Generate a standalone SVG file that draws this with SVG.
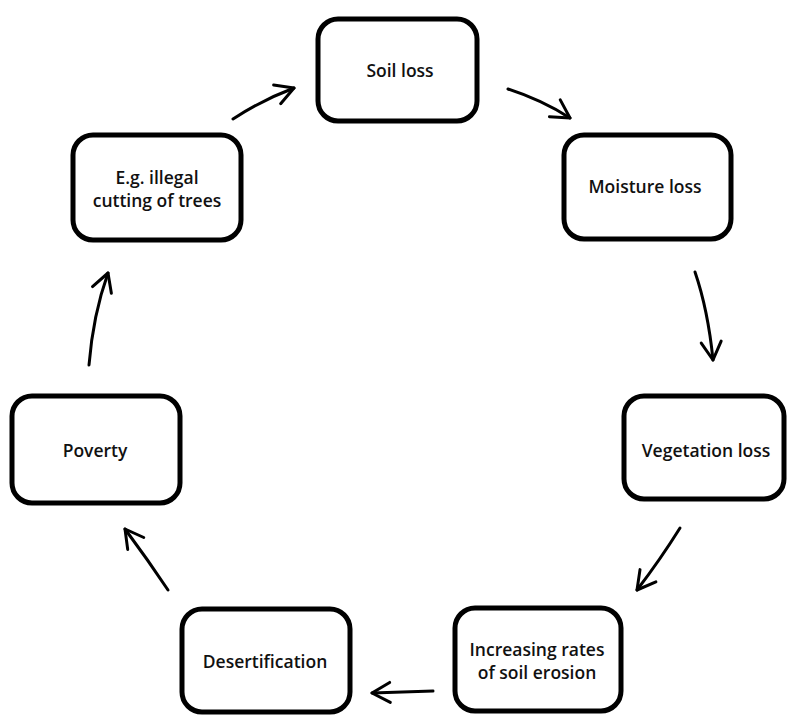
<svg xmlns="http://www.w3.org/2000/svg" width="787" height="718" viewBox="0 0 787 718">
<style>
.box{fill:#fff;stroke:#000;stroke-width:5}
.lbl{font-family:"Open Sans","Liberation Sans",sans-serif;font-size:17.5px;font-weight:600;fill:#111;text-anchor:middle}
.conn{fill:none;stroke:#000;stroke-width:3;stroke-linecap:round;marker-end:url(#ah)}
</style>
<defs>
<marker id="ah" markerUnits="userSpaceOnUse" viewBox="0 0 24 24" refX="21" refY="12" markerWidth="24" markerHeight="24" orient="auto">
<path d="M3,2 L21,12 L3,22" fill="none" stroke="#000" stroke-width="3" stroke-linecap="round" stroke-linejoin="round"/>
</marker>
</defs>
<rect width="787" height="718" fill="#fff"/>
<g id="connectors">
<path class="conn" d="M233,119 Q262,100 294,88"/>
<path class="conn" d="M508,89 Q542,100 570,118"/>
<path class="conn" d="M695,272 Q708,310 713,360"/>
<path class="conn" d="M680,528 Q660,560 637,590"/>
<path class="conn" d="M433,691 L372,693"/>
<path class="conn" d="M168,590 Q148,560 125,529"/>
<path class="conn" d="M89,365 Q93,315 108,273"/>
</g>
<g id="soil-loss">
<rect class="box" x="318" y="19" width="159" height="102" rx="20"/>
<text class="lbl" x="400" y="77">Soil loss</text>
</g>
<g id="moisture-loss">
<rect class="box" x="564" y="135" width="167" height="104" rx="20"/>
<text class="lbl" x="645" y="193">Moisture loss</text>
</g>
<g id="vegetation-loss">
<rect class="box" x="624" y="396" width="160" height="103" rx="20"/>
<text class="lbl" x="706" y="457">Vegetation loss</text>
</g>
<g id="soil-erosion">
<rect class="box" x="455" y="608" width="166" height="103" rx="20"/>
<text class="lbl" x="537" y="656">Increasing rates</text>
<text class="lbl" x="537" y="679">of soil erosion</text>
</g>
<g id="desertification">
<rect class="box" x="182" y="609" width="168" height="103" rx="20"/>
<text class="lbl" x="265" y="668">Desertification</text>
</g>
<g id="poverty">
<rect class="box" x="12" y="396" width="168" height="107" rx="20"/>
<text class="lbl" x="95" y="457">Poverty</text>
</g>
<g id="illegal-cutting">
<rect class="box" x="73" y="135" width="168" height="105" rx="20"/>
<text class="lbl" x="157" y="184">E.g. illegal</text>
<text class="lbl" x="157" y="207">cutting of trees</text>
</g>
</svg>
